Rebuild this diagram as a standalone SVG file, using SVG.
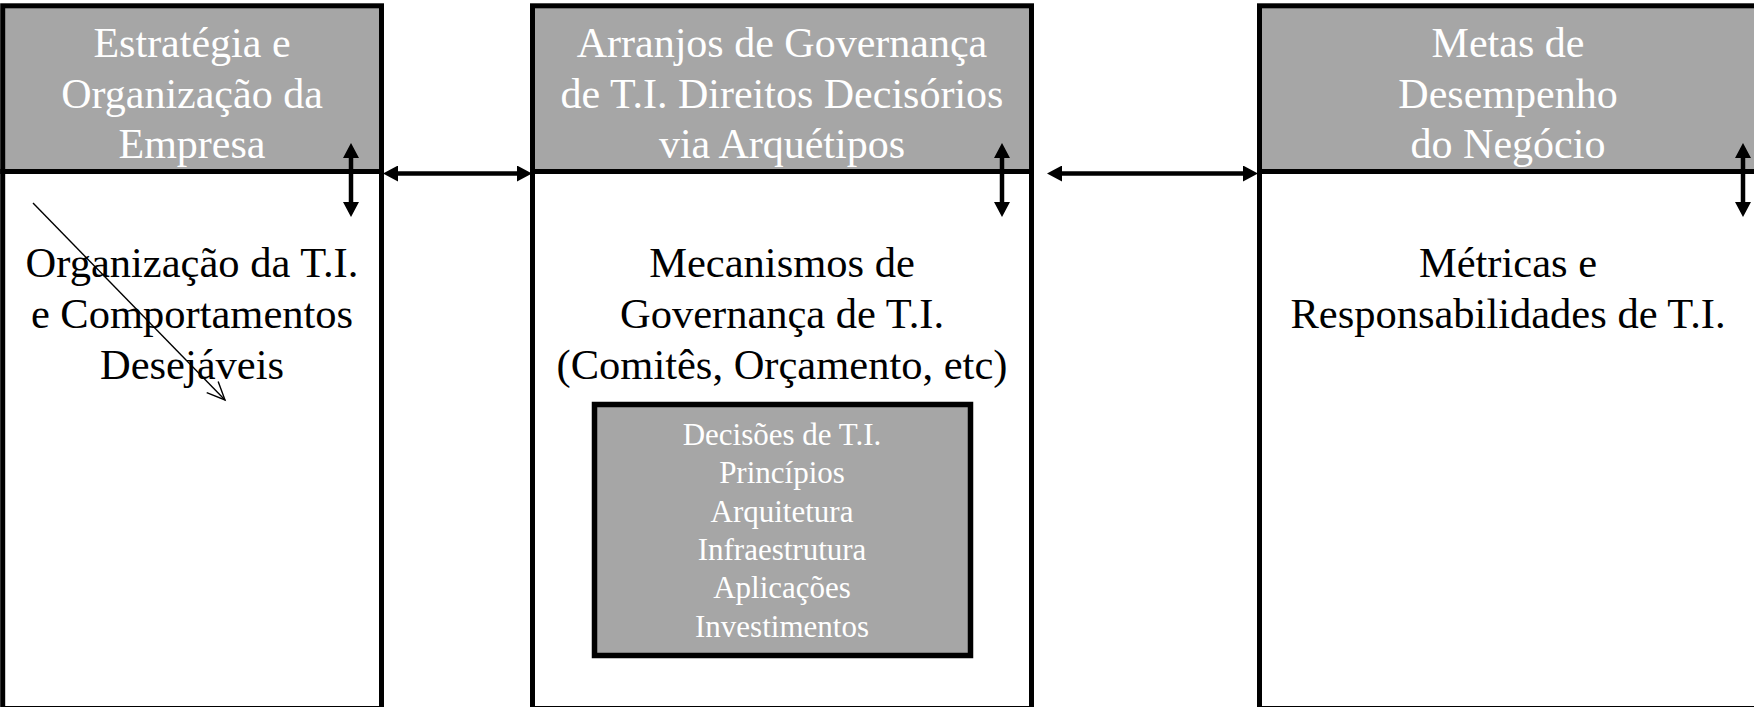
<svg xmlns="http://www.w3.org/2000/svg" width="1754" height="707" viewBox="0 0 1754 707">
<defs>
<style>
.hdr{fill:#a6a6a6;stroke:#000;stroke-width:5}
.body{fill:#fff;stroke:#000;stroke-width:5}
.inner{fill:#a6a6a6;stroke:#000;stroke-width:5.5}
.ht{font-family:"Liberation Serif","Times New Roman",serif;font-size:42px;fill:#fff;text-anchor:middle}
.bt{font-family:"Liberation Serif","Times New Roman",serif;font-size:42.5px;fill:#000;text-anchor:middle}
.st{font-family:"Liberation Serif","Times New Roman",serif;font-size:31px;fill:#fff;text-anchor:middle}
.conn{stroke:#000;stroke-width:4.5;fill:none;marker-start:url(#ah);marker-end:url(#ah)}
.thin{stroke:#000;stroke-width:1.4;fill:none;marker-end:url(#open)}
</style>
<marker id="ah" markerUnits="userSpaceOnUse" markerWidth="16" markerHeight="16" refX="10" refY="8" orient="auto-start-reverse" viewBox="0 0 15 16">
<path d="M0,0 L15,8 L0,16 z" fill="#000"/>
</marker>
<marker id="open" markerUnits="userSpaceOnUse" markerWidth="24" markerHeight="20" refX="20" refY="9" orient="auto" viewBox="0 0 24 18">
<path d="M2,1 L20,9 L2,17" fill="none" stroke="#000" stroke-width="1.4"/>
</marker>
</defs>

<g id="node-estrategia">
<rect class="body" x="2.7" y="171.5" width="378.8" height="537"/>
<rect class="hdr" x="2.7" y="5.8" width="378.8" height="165.7"/>
<text class="ht" x="192" y="57">Estratégia e</text>
<text class="ht" x="192" y="107.5">Organização da</text>
<text class="ht" x="192" y="158">Empresa</text>
<text class="bt" x="192" y="277">Organização da T.I.</text>
<text class="bt" x="192" y="328">e Comportamentos</text>
<text class="bt" x="192" y="379">Desejáveis</text>
</g>

<g id="node-arranjos">
<rect class="body" x="532.5" y="171.5" width="499" height="537"/>
<rect class="hdr" x="532.5" y="5.8" width="499" height="165.7"/>
<text class="ht" x="782" y="57">Arranjos de Governança</text>
<text class="ht" x="782" y="107.5">de T.I. Direitos Decisórios</text>
<text class="ht" x="782" y="158">via Arquétipos</text>
<text class="bt" x="782" y="277">Mecanismos de</text>
<text class="bt" x="782" y="328">Governança de T.I.</text>
<text class="bt" x="782" y="379">(Comitês, Orçamento, etc)</text>
</g>

<g id="node-decisoes">
<rect class="inner" x="594.5" y="404.5" width="376" height="251"/>
<text class="st" x="782" y="445">Decisões de T.I.</text>
<text class="st" x="782" y="483">Princípios</text>
<text class="st" x="782" y="521.5">Arquitetura</text>
<text class="st" x="782" y="560">Infraestrutura</text>
<text class="st" x="782" y="598">Aplicações</text>
<text class="st" x="782" y="636.5">Investimentos</text>
</g>

<g id="node-metas">
<rect class="body" x="1259.5" y="171.5" width="500" height="537"/>
<rect class="hdr" x="1259.5" y="5.8" width="500" height="165.7"/>
<text class="ht" x="1508" y="57">Metas de</text>
<text class="ht" x="1508" y="107.5">Desempenho</text>
<text class="ht" x="1508" y="158">do Negócio</text>
<text class="bt" x="1508" y="277">Métricas e</text>
<text class="bt" x="1508" y="328">Responsabilidades de T.I.</text>
</g>

<g id="connectors">
<line class="conn" x1="388" y1="173.5" x2="527" y2="173.5"/>
<line class="conn" x1="1052" y1="173.5" x2="1253" y2="173.5"/>
<line class="conn" x1="351" y1="148" x2="351" y2="212"/>
<line class="conn" x1="1002" y1="148" x2="1002" y2="212"/>
<line class="conn" x1="1743" y1="148" x2="1743" y2="212"/>
<line class="thin" x1="33" y1="203" x2="225" y2="400"/>
</g>
</svg>
